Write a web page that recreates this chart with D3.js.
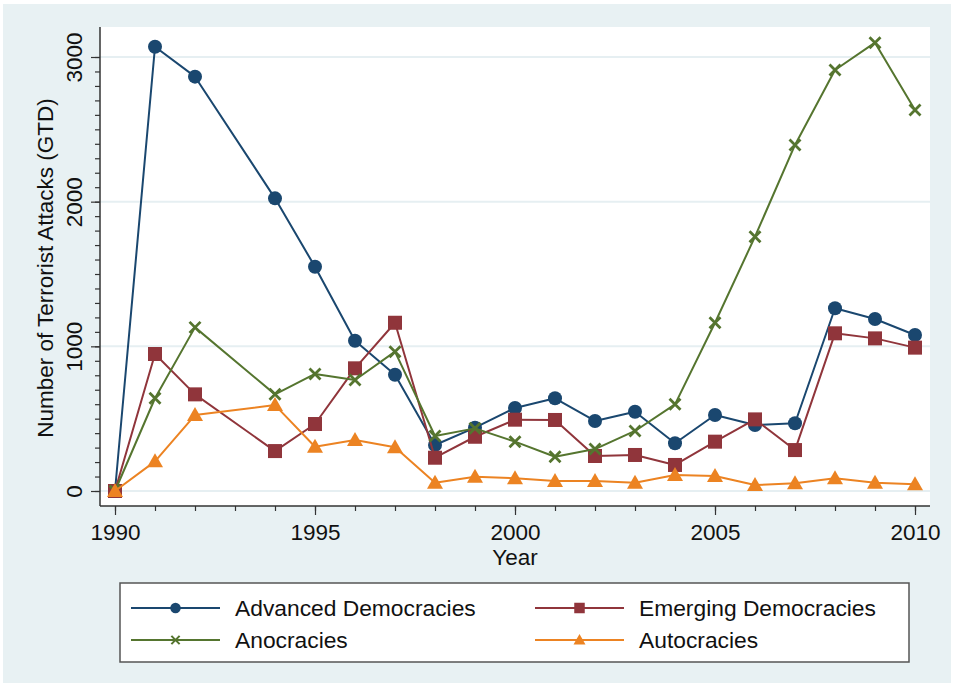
<!DOCTYPE html>
<html>
<head>
<meta charset="utf-8">
<script src="https://cdn.jsdelivr.net/npm/d3@7"></script>
<style>
  body { margin: 0; background: #ffffff; }
  svg text { font-family: "Liberation Sans", Arial, sans-serif; fill: #111; }
</style>
</head>
<body>
<div id="chart"></div>
<script>
// data (1993 is missing in the source)
const years = [1990, 1991, 1992, 1994, 1995, 1996, 1997, 1998, 1999, 2000,
  2001, 2002, 2003, 2004, 2005, 2006, 2007, 2008, 2009, 2010];
const advanced = [0, 3071, 2864, 2023, 1550, 1039, 804, 318, 438, 574,
  641, 484, 548, 330, 525, 456, 468, 1263, 1189, 1078];
const emerging = [0, 947, 668, 276, 463, 848, 1163, 230, 375, 493,
  491, 242, 249, 180, 341, 495, 283, 1090, 1055, 991];
const anocracies = [0, 641, 1131, 668, 809, 767, 963, 380, 433, 341,
  237, 290, 415, 599, 1163, 1758, 2392, 2910, 3099, 2634];
const autocracies = [0, 205, 525, 594, 306, 353, 302, 57, 99, 88,
  69, 69, 57, 111, 104, 41, 53, 88, 57, 46];
const xTicks = [1990, 1995, 2000, 2005, 2010];
const yTicks = [0, 1000, 2000, 3000];

const series = [
  { name: "Advanced Democracies", values: advanced, color: "#1a476f", symbol: "circle" },
  { name: "Emerging Democracies", values: emerging, color: "#90353b", symbol: "square" },
  { name: "Anocracies", values: anocracies, color: "#55752f", symbol: "cross" },
  { name: "Autocracies", values: autocracies, color: "#ec8322", symbol: "triangle" },
];

const width = 954, height = 687;
const plot = { left: 100, right: 930, top: 27, bottom: 506 };

const svg = d3.select("#chart").append("svg")
  .attr("width", width)
  .attr("height", height);

// graph region background
svg.append("rect")
  .attr("x", 3).attr("y", 4)
  .attr("width", width - 6).attr("height", height - 8)
  .attr("fill", "#e8f1f3");

svg.append("rect")
  .attr("x", plot.left).attr("y", plot.top)
  .attr("width", plot.right - plot.left).attr("height", plot.bottom - plot.top)
  .attr("fill", "#ffffff");

const x = d3.scaleLinear().domain([1990, 2010]).range([115, 915]);
const y = d3.scaleLinear().domain([0, 3000]).range([491, 57]);

// gridlines
svg.append("g").selectAll("line")
  .data(yTicks)
  .join("line")
  .attr("x1", plot.left).attr("x2", plot.right)
  .attr("y1", d => y(d)).attr("y2", d => y(d))
  .attr("stroke", "#e6eff2")
  .attr("stroke-width", 2);

// y axis
const yAxisMinor = d3.axisLeft(y).tickValues(d3.range(0, 3001, 100)).tickSize(5).tickFormat("");
const yAxisMajor = d3.axisLeft(y).tickValues(yTicks).tickSize(9).tickFormat(d3.format("d"));

svg.append("g")
  .attr("transform", `translate(${plot.left},0)`)
  .call(yAxisMinor)
  .call(g => g.select(".domain").remove())
  .call(g => g.selectAll("line").attr("stroke", "#333").attr("stroke-width", 1.2));

const gy = svg.append("g")
  .attr("transform", `translate(${plot.left},0)`)
  .call(yAxisMajor)
  .call(g => g.select(".domain").remove())
  .call(g => g.selectAll("line").attr("stroke", "#333").attr("stroke-width", 1.2));

// tick groups are already translated to y(d); only rotate the label
gy.selectAll("text")
  .attr("font-size", 22.5)
  .attr("fill", "#111")
  .attr("x", 0).attr("y", 0).attr("dy", 0)
  .attr("text-anchor", "middle")
  .attr("transform", "translate(-18,0) rotate(-90)");

svg.append("line")
  .attr("x1", plot.left).attr("x2", plot.left)
  .attr("y1", plot.top).attr("y2", plot.bottom)
  .attr("stroke", "#333").attr("stroke-width", 1.5);

// x axis
const xAxisMinor = d3.axisBottom(x).tickValues(d3.range(1990, 2011)).tickSize(5).tickFormat("");
const xAxisMajor = d3.axisBottom(x).tickValues(xTicks).tickSize(9).tickFormat(d3.format("d"));

svg.append("g")
  .attr("transform", `translate(0,${plot.bottom})`)
  .call(xAxisMinor)
  .call(g => g.select(".domain").remove())
  .call(g => g.selectAll("line").attr("stroke", "#333").attr("stroke-width", 1.2));

svg.append("g")
  .attr("transform", `translate(0,${plot.bottom})`)
  .call(xAxisMajor)
  .call(g => g.select(".domain").remove())
  .call(g => g.selectAll("line").attr("stroke", "#333").attr("stroke-width", 1.2))
  .call(g => g.selectAll("text")
    .attr("font-size", 22.5)
    .attr("fill", "#111")
    .attr("dy", 0)
    .attr("y", 33.5));

svg.append("line")
  .attr("x1", plot.left).attr("x2", plot.right)
  .attr("y1", plot.bottom).attr("y2", plot.bottom)
  .attr("stroke", "#333").attr("stroke-width", 1.5);

// axis titles
svg.append("text")
  .attr("x", (plot.left + plot.right) / 2)
  .attr("y", 565)
  .attr("text-anchor", "middle")
  .attr("font-size", 22.5)
  .text("Year");

svg.append("text")
  .attr("transform", "translate(53,268) rotate(-90)")
  .attr("text-anchor", "middle")
  .attr("font-size", 22.5)
  .text("Number of Terrorist Attacks (GTD)");

// marker drawing
function drawMarker(sel, symbol, color) {
  if (symbol === "circle") {
    sel.append("circle").attr("r", 7).attr("fill", color);
  } else if (symbol === "square") {
    sel.append("rect").attr("x", -7).attr("y", -7)
      .attr("width", 14).attr("height", 14).attr("fill", color);
  } else if (symbol === "triangle") {
    sel.append("path").attr("d", "M0,-8L8,6L-8,6Z").attr("fill", color);
  } else if (symbol === "cross") {
    sel.append("path").attr("d", "M-5.5,-5.5L5.5,5.5M-5.5,5.5L5.5,-5.5")
      .attr("stroke", color).attr("stroke-width", 2.8).attr("fill", "none");
  }
}

const line = d3.line()
  .x(d => x(d.year))
  .y(d => y(d.value));

series.forEach(s => {
  const pts = years.map((yr, i) => ({ year: yr, value: s.values[i] }));
  const g = svg.append("g");
  g.append("path")
    .datum(pts)
    .attr("d", line)
    .attr("fill", "none")
    .attr("stroke", s.color)
    .attr("stroke-width", 2)
    .attr("stroke-linejoin", "round");
  g.selectAll("g.pt")
    .data(pts)
    .join("g")
    .attr("class", "pt")
    .attr("transform", d => `translate(${x(d.year)},${y(d.value)})`)
    .each(function () { drawMarker(d3.select(this), s.symbol, s.color); });
});

// legend
svg.append("rect")
  .attr("x", 120).attr("y", 583)
  .attr("width", 789).attr("height", 79)
  .attr("fill", "#ffffff")
  .attr("stroke", "#555")
  .attr("stroke-width", 1.5);

const legendPos = [
  { lx: 131, cy: 608 }, { lx: 535, cy: 608 },
  { lx: 131, cy: 640 }, { lx: 535, cy: 640 },
];

series.forEach((s, i) => {
  const p = legendPos[i];
  const g = svg.append("g");
  g.append("line")
    .attr("x1", p.lx).attr("x2", p.lx + 89)
    .attr("y1", p.cy).attr("y2", p.cy)
    .attr("stroke", s.color).attr("stroke-width", 2);
  const m = g.append("g").attr("transform", `translate(${p.lx + 44.5},${p.cy}) scale(0.75)`);
  drawMarker(m, s.symbol, s.color);
  g.append("text")
    .attr("x", p.lx + 104)
    .attr("y", p.cy + 8)
    .attr("font-size", 22.8)
    .text(s.name);
});
</script>
</body>
</html>
